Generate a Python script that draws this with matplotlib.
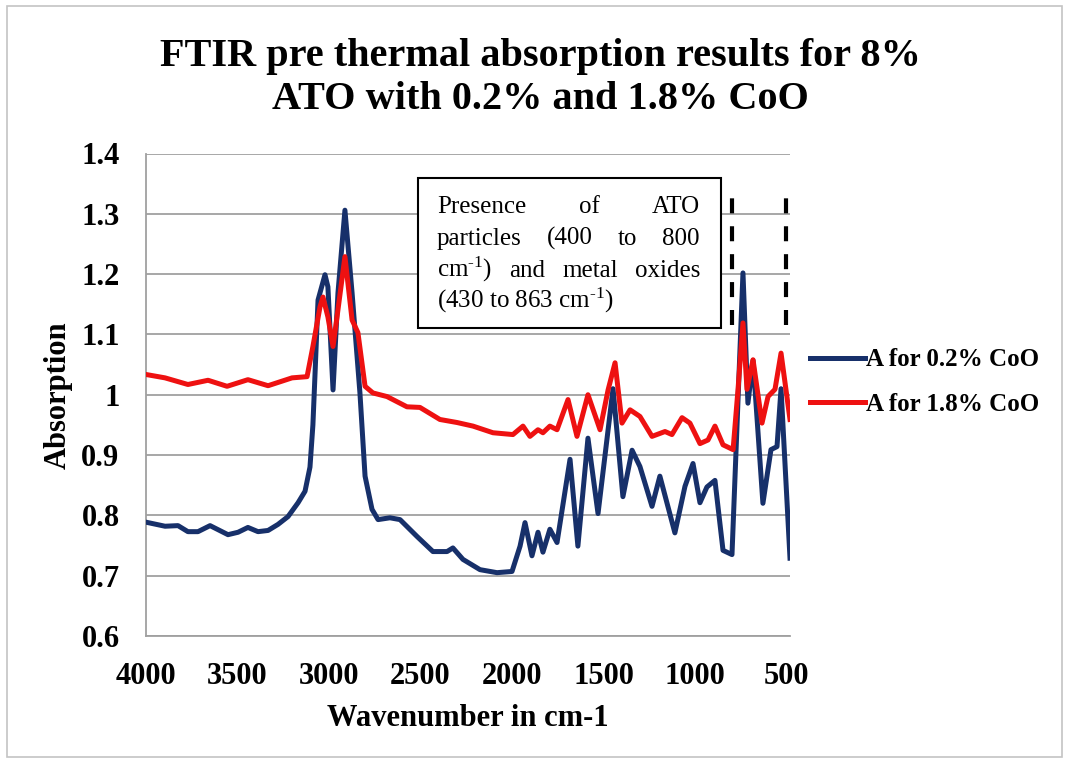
import matplotlib.pyplot as plt
from matplotlib.patches import Rectangle

plt.rcParams['font.family'] = ['Liberation Serif', 'DejaVu Serif']
plt.rcParams['mathtext.fontset'] = 'custom'
plt.rcParams['mathtext.rm'] = 'Liberation Serif'
plt.rcParams['mathtext.it'] = 'Liberation Serif:italic'
plt.rcParams['mathtext.bf'] = 'Liberation Serif:bold'

# spectrum for 0.2% CoO
wn_02 = [3989, 3896, 3825, 3771, 3716, 3650, 3552, 3497, 3443, 3388, 3333, 3279,
         3224, 3169, 3131, 3104, 3088, 3077, 3060, 3022, 3006, 2978, 2951, 2913,
         2874, 2831, 2803, 2765, 2732, 2667, 2612, 2519, 2432, 2355, 2323, 2268,
         2175, 2082, 2000, 1956, 1929, 1891, 1858, 1831, 1793, 1754, 1683, 1640,
         1585, 1530, 1448, 1394, 1344, 1301, 1235, 1192, 1110, 1055, 1011, 973,
         935, 891, 847, 798, 738, 711, 683, 629, 585, 552, 530, 481]
abs_02 = [0.788, 0.782, 0.783, 0.773, 0.773, 0.783, 0.768, 0.772, 0.780, 0.773, 0.775, 0.785,
          0.798, 0.821, 0.840, 0.880, 0.950, 1.030, 1.157, 1.199, 1.179, 1.008, 1.169, 1.306,
          1.169, 1.003, 0.865, 0.810, 0.793, 0.796, 0.793, 0.765, 0.740, 0.740, 0.746, 0.727,
          0.710, 0.705, 0.707, 0.749, 0.788, 0.733, 0.772, 0.739, 0.777, 0.755, 0.893, 0.749,
          0.928, 0.803, 1.010, 0.831, 0.908, 0.881, 0.815, 0.865, 0.771, 0.848, 0.886, 0.821,
          0.847, 0.858, 0.742, 0.735, 1.202, 0.986, 1.057, 0.820, 0.909, 0.914, 1.010, 0.729]

# spectrum for 1.8% CoO
wn_18 = [3989, 3896, 3771, 3661, 3557, 3443, 3333, 3202, 3120, 3088, 3049, 3033,
         3006, 2978, 2951, 2913, 2874, 2842, 2803, 2760, 2683, 2574, 2503, 2394,
         2301, 2213, 2104, 1995, 1940, 1902, 1858, 1831, 1793, 1754, 1694, 1645,
         1585, 1519, 1475, 1437, 1399, 1355, 1301, 1235, 1164, 1126, 1071, 1028,
         973, 929, 891, 847, 792, 765, 738, 716, 683, 634, 601, 563, 530, 481]
abs_18 = [1.033, 1.028, 1.017, 1.024, 1.014, 1.025, 1.015, 1.028, 1.030, 1.080, 1.146, 1.162,
          1.129, 1.080, 1.141, 1.229, 1.124, 1.103, 1.014, 1.003, 0.997, 0.980, 0.979, 0.959,
          0.954, 0.948, 0.937, 0.934, 0.948, 0.931, 0.942, 0.937, 0.948, 0.942, 0.992, 0.931,
          1.000, 0.942, 1.008, 1.053, 0.953, 0.975, 0.964, 0.931, 0.939, 0.934, 0.962, 0.953,
          0.919, 0.925, 0.948, 0.917, 0.909, 1.009, 1.119, 1.009, 1.058, 0.953, 0.997, 1.009,
          1.069, 0.959]

x_ticks = [4000, 3500, 3000, 2500, 2000, 1500, 1000, 500]
y_ticks = [0.6, 0.7, 0.8, 0.9, 1.0, 1.1, 1.2, 1.3, 1.4]
y_labels = ['0.6', '0.7', '0.8', '0.9', '1', '1.1', '1.2', '1.3', '1.4']
region_wn = [800, 505]
region_y = [1.116, 1.326]

W, H = 1068, 761
fig = plt.figure(figsize=(W / 100, H / 100), dpi=100)

def px(x, y):
    return x / W, 1 - y / H

# chart area border
fig.patches.append(Rectangle(px(7, 757), (1062 - 7) / W, (757 - 6) / H,
                             transform=fig.transFigure, fill=False,
                             edgecolor='#c4c4c4', lw=1.2))

ax = fig.add_axes([146 / W, 1 - 636 / H, (790 - 146) / W, (636 - 153.5) / H])

ax.plot(wn_02, abs_02, color='#17306a', lw=3.6, solid_joinstyle='round',
        label='A for 0.2% CoO', zorder=3)
ax.plot(wn_18, abs_18, color='#ee1111', lw=3.6, solid_joinstyle='round',
        label='A for 1.8% CoO', zorder=3)

ax.set_xlim(4000, 481)
ax.set_ylim(0.6, 1.4)
ax.set_xticks(x_ticks)
ax.set_xticklabels([str(v) for v in x_ticks])
ax.set_yticks(y_ticks)
ax.set_yticklabels(y_labels)
ax.tick_params(length=0, labelsize=22, pad=19)
for lab in ax.get_xticklabels() + ax.get_yticklabels():
    lab.set_fontweight('bold')
ax.grid(axis='y', color='#a0a0a0', lw=1.3)
ax.set_axisbelow(True)
for s in ['top', 'right']:
    ax.spines[s].set_visible(False)
ax.spines['left'].set_color('#a0a0a0')
ax.spines['bottom'].set_color('#a0a0a0')
ax.spines['left'].set_linewidth(1.3)
ax.spines['bottom'].set_linewidth(1.3)

ax.set_xlabel('Wavenumber in cm-1', fontsize=22, fontweight='bold', labelpad=9)
ax.set_ylabel('Absorption', fontsize=22, fontweight='bold', labelpad=6)

fig.text(540 / W, 1 - 78 / H, 'FTIR pre thermal absorption results for 8%\nATO with 0.2% and 1.8% CoO',
         ha='center', va='center', fontsize=29, fontweight='bold', linespacing=1.2)

# dashed lines marking the oxide region
ax.vlines(region_wn, region_y[0], region_y[1], colors='black', lw=3,
          linestyles=(0, (3.6, 3.1)), zorder=4)

# annotation box with justified text
fig.patches.append(Rectangle(px(418, 328), (721 - 418) / W, (328 - 178) / H,
                             transform=fig.transFigure, facecolor='white',
                             edgecolor='black', lw=1.5, zorder=5))
box_lines = [(['Presence', 'of', 'ATO'], True),
             (['particles', '(400', 'to', '800'], True),
             (['cm$^{\\text{-1}}$)', 'and', 'metal', 'oxides'], True),
             (['(430 to 863 cm$^{\\text{-1}}$)'], False)]
baselines = [213, 245, 277, 308]
fig.canvas.draw()
r = fig.canvas.get_renderer()
x0, x1 = 437, 700
for (words, just), yb in zip(box_lines, baselines):
    ts = [fig.text(0, 1 - yb / H, w, fontsize=18, va='baseline', zorder=6) for w in words]
    ws = [t.get_window_extent(r).width for t in ts]
    gap = (x1 - x0 - sum(ws)) / (len(ws) - 1) if just else 0
    x = x0
    for t, w in zip(ts, ws):
        t.set_x(x / W)
        x += w + gap

ax.legend(loc='center left', bbox_to_anchor=(810 / W, 1 - 382 / H),
          bbox_transform=fig.transFigure, frameon=False, handlelength=2.2,
          handletextpad=0.05, labelspacing=0.85, borderpad=0, borderaxespad=0,
          prop={'size': 18, 'weight': 'bold'})

fig.savefig('out.png', dpi=100)
